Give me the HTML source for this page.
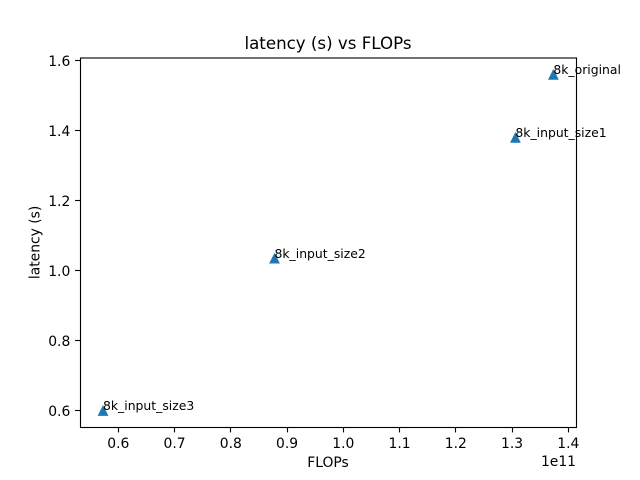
<!DOCTYPE html>
<html lang="en">
<head>
<meta charset="utf-8">
<title>latency (s) vs FLOPs</title>
<style>
html,body{margin:0;padding:0;background:#fff;}
svg{display:block;font-family:"DejaVu Sans","Liberation Sans",sans-serif;fill:#000;}
</style>
</head>
<body>
<svg id="chart" width="640" height="480" viewBox="0 0 640 480" xmlns="http://www.w3.org/2000/svg">
<rect x="0" y="0" width="640" height="480" fill="#ffffff"/>
<text x="328" y="49" text-anchor="middle" font-size="16.67">latency (s) vs FLOPs</text>
<text x="328" y="467" text-anchor="middle" font-size="13.89">FLOPs</text>
<text x="0" y="0" transform="translate(39.5,242.4) rotate(-90)" text-anchor="middle" font-size="13.89">latency (s)</text>
<text x="576" y="466" text-anchor="end" font-size="13.89">1e11</text>
<g id="ticks"></g>
<g id="points"></g>
<g id="labels"></g>
<rect x="80.5" y="58" width="496" height="369.5" fill="none" stroke="#000" stroke-width="1.11"/>
</svg>
<script>
const categories = ["8k_original", "8k_input_size1", "8k_input_size2", "8k_input_size3"];
const flops = [1.3735, 1.306, 0.8777, 0.5728];
const latency = [1.56, 1.38, 1.035, 0.6];
const xTickValues = [0.6, 0.7, 0.8, 0.9, 1.0, 1.1, 1.2, 1.3, 1.4];
const yTickValues = [0.6, 0.8, 1.0, 1.2, 1.4, 1.6];

const SVG_NS = "http://www.w3.org/2000/svg";
const plot = { left: 80, right: 576, top: 57.6, bottom: 427.2 };
const xDomain = [0.5319, 1.4137];
const yDomain = [0.552, 1.6077];

function xScale(v) {
  return plot.left + (v - xDomain[0]) / (xDomain[1] - xDomain[0]) * (plot.right - plot.left);
}
function yScale(v) {
  return plot.bottom - (v - yDomain[0]) / (yDomain[1] - yDomain[0]) * (plot.bottom - plot.top);
}
function snap(p) {
  return Math.floor(p) + 0.5;
}

const ticksGroup = document.getElementById("ticks");
const pointsGroup = document.getElementById("points");
const labelsGroup = document.getElementById("labels");

xTickValues.forEach(function (v) {
  const x = snap(xScale(v));
  const tick = document.createElementNS(SVG_NS, "line");
  
  
  tick.setAttribute("x1", x);
  tick.setAttribute("x2", x);
  tick.setAttribute("y1", 427.5);
  tick.setAttribute("y2", 432.4);
  tick.setAttribute("stroke", "#000");
  tick.setAttribute("stroke-width", "1.11");
  ticksGroup.appendChild(tick);
  const label = document.createElementNS(SVG_NS, "text");
  
  
  label.setAttribute("x", xScale(v));
  label.setAttribute("y", 448);
  label.setAttribute("text-anchor", "middle");
  label.setAttribute("font-size", "13.89");
  label.textContent = v.toFixed(1);
  ticksGroup.appendChild(label);
});

yTickValues.forEach(function (v) {
  const y = snap(yScale(v));
  const tick = document.createElementNS(SVG_NS, "line");
  
  
  tick.setAttribute("x1", 75.1);
  tick.setAttribute("x2", 80);
  tick.setAttribute("y1", y);
  tick.setAttribute("y2", y);
  tick.setAttribute("stroke", "#000");
  tick.setAttribute("stroke-width", "1.11");
  ticksGroup.appendChild(tick);
  const label = document.createElementNS(SVG_NS, "text");
  
  
  label.setAttribute("x", 70.3);
  label.setAttribute("y", yScale(v) + 5.8);
  label.setAttribute("text-anchor", "end");
  label.setAttribute("font-size", "13.89");
  label.textContent = v.toFixed(1);
  ticksGroup.appendChild(label);
});

categories.forEach(function (name, i) {
  const cx = xScale(flops[i]);
  const cy = yScale(latency[i]);
  const r = 4.17;
  const my = cy + 0.5;
  const marker = document.createElementNS(SVG_NS, "polygon");
  
  
  marker.setAttribute("points", cx + "," + (my - r) + " " + (cx - r) + "," + (my + r) + " " + (cx + r) + "," + (my + r));
  marker.setAttribute("fill", "#1f77b4");
  marker.setAttribute("stroke", "#1f77b4");
  marker.setAttribute("stroke-width", "1.5");
  pointsGroup.appendChild(marker);
  const label = document.createElementNS(SVG_NS, "text");
  
  
  label.setAttribute("x", cx);
  label.setAttribute("y", cy - 0.3);
  label.setAttribute("font-size", "12.4");
  label.textContent = name;
  labelsGroup.appendChild(label);
});
</script>
</body>
</html>
